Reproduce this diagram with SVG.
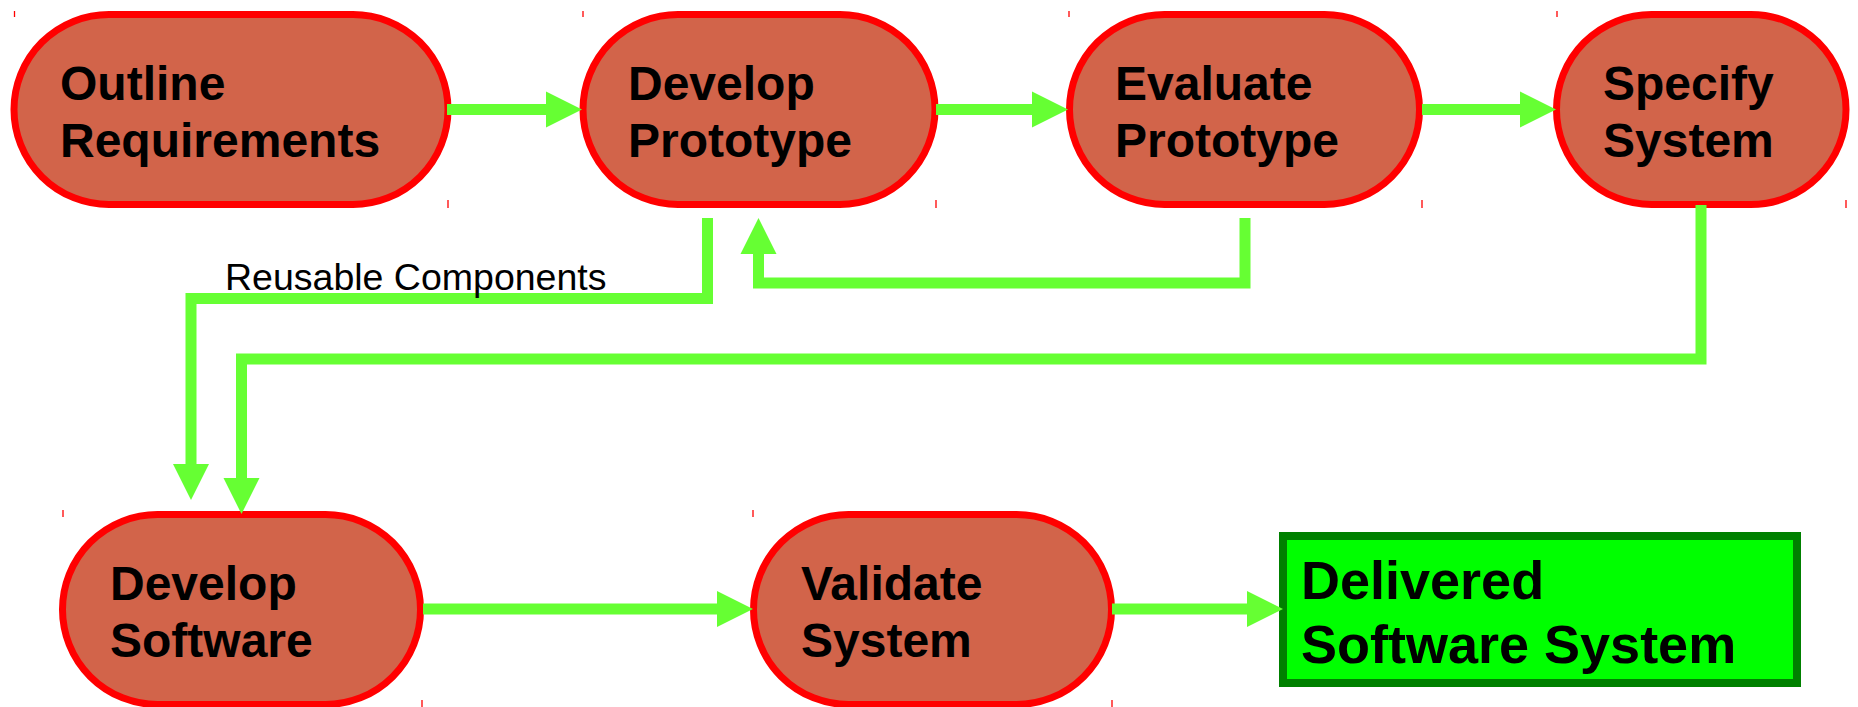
<svg xmlns="http://www.w3.org/2000/svg" width="1858" height="707" viewBox="0 0 1858 707">
  <style>
    .node { fill: #d2644a; stroke: #ff0000; stroke-width: 7; }
    .final { fill: #00ff00; stroke: #008000; stroke-width: 8; }
    .tick { stroke: #ff0000; stroke-width: 1.3; }
    .lbl { font-family: "Liberation Sans", Arial, sans-serif; font-weight: bold; font-size: 48px; fill: #000000; }
    .lblbig { font-family: "Liberation Sans", Arial, sans-serif; font-weight: bold; font-size: 54px; fill: #000000; }
    .elbl { font-family: "Liberation Sans", Arial, sans-serif; font-size: 37.5px; fill: #000000; }
    .conn { fill: none; stroke: #66ff33; stroke-width: 11; stroke-linejoin: miter; stroke-linecap: butt; marker-end: url(#arrow); }
  </style>
  <defs>
    <marker id="arrow" markerUnits="userSpaceOnUse" markerWidth="36" markerHeight="36" refX="0" refY="18" orient="auto" overflow="visible">
      <path d="M0,0 L36,18 L0,36 Z" fill="#66ff33"/>
    </marker>
  </defs>
  <rect width="1858" height="707" fill="#ffffff"/>

  <g id="outline-requirements">
    <rect class="node" x="14" y="14.5" width="434" height="190" rx="95" ry="95"/>
    <line class="tick" x1="14.5" y1="11" x2="14.5" y2="17"/>
    <line class="tick" x1="448" y1="200" x2="448" y2="208"/>
    <text class="lbl" x="60" y="100">Outline</text>
    <text class="lbl" x="60" y="157">Requirements</text>
  </g>

  <g id="develop-prototype">
    <rect class="node" x="583" y="14.5" width="352" height="190" rx="95" ry="95"/>
    <line class="tick" x1="583" y1="11" x2="583" y2="17"/>
    <line class="tick" x1="936" y1="200" x2="936" y2="208"/>
    <text class="lbl" x="628" y="100">Develop</text>
    <text class="lbl" x="628" y="157">Prototype</text>
  </g>

  <g id="evaluate-prototype">
    <rect class="node" x="1069.5" y="14.5" width="350" height="190" rx="95" ry="95"/>
    <line class="tick" x1="1069" y1="11" x2="1069" y2="17"/>
    <line class="tick" x1="1422" y1="200" x2="1422" y2="208"/>
    <text class="lbl" x="1115" y="100">Evaluate</text>
    <text class="lbl" x="1115" y="157">Prototype</text>
  </g>

  <g id="specify-system">
    <rect class="node" x="1556.5" y="14.5" width="289.5" height="190" rx="95" ry="95"/>
    <line class="tick" x1="1557" y1="11" x2="1557" y2="17"/>
    <line class="tick" x1="1846" y1="200" x2="1846" y2="208"/>
    <text class="lbl" x="1603" y="100">Specify</text>
    <text class="lbl" x="1603" y="157">System</text>
  </g>

  <g id="develop-software">
    <rect class="node" x="62.5" y="514.5" width="358" height="190" rx="95" ry="95"/>
    <line class="tick" x1="63" y1="510" x2="63" y2="517"/>
    <line class="tick" x1="422" y1="700" x2="422" y2="707"/>
    <text class="lbl" x="110" y="600">Develop</text>
    <text class="lbl" x="110" y="657">Software</text>
  </g>

  <g id="validate-system">
    <rect class="node" x="753.5" y="514.5" width="358" height="190" rx="95" ry="95"/>
    <line class="tick" x1="753" y1="510" x2="753" y2="517"/>
    <line class="tick" x1="1112" y1="700" x2="1112" y2="707"/>
    <text class="lbl" x="801" y="600">Validate</text>
    <text class="lbl" x="801" y="657">System</text>
  </g>

  <g id="delivered-software-system">
    <rect class="final" x="1283" y="536" width="514" height="147"/>
    <text class="lblbig" x="1301" y="599">Delivered</text>
    <text class="lblbig" x="1301" y="663">Software System</text>
  </g>

  <g id="connectors">
    <path class="conn" d="M447,109.5 H546"/>
    <path class="conn" d="M936,109.5 H1032"/>
    <path class="conn" d="M1422,109.5 H1520"/>
    <path class="conn" d="M1245,218 V283 H758.5 V254"/>
    <path class="conn" d="M707.5,218 V298.5 H191 V464"/>
    <path class="conn" d="M1701,205 V359 H241.5 V478"/>
    <path class="conn" d="M423,609 H717"/>
    <path class="conn" d="M1112,609 H1247"/>
    <text class="elbl" x="225" y="290">Reusable Components</text>
  </g>
</svg>
